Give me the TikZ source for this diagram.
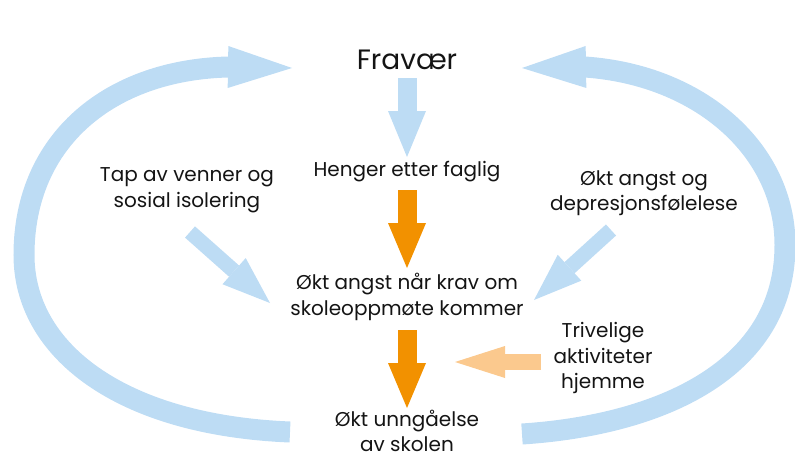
\documentclass[tikz,border=0pt]{standalone}
\usepackage{fontspec}
\setmainfont{Poppins}
\usetikzlibrary{arrows.meta,calc}

\definecolor{paleblue}{RGB}{189,220,244}
\definecolor{strongorange}{RGB}{242,145,0}
\definecolor{paleorange}{RGB}{251,201,142}

\begin{document}
\begin{tikzpicture}[x=1pt,y=-1pt,
  txt/.style={align=center,inner sep=0pt,text=black!92,font=\fontsize{20}{25.5}\selectfont},
  bluearrow/.style={draw=paleblue,line width=19pt,-{Triangle[length=46pt,width=38pt,line width=0pt]}},
  orangearrow/.style={draw=strongorange,line width=19pt,-{Triangle[length=45pt,width=38pt,line width=0pt]}},
  slantarrow/.style={draw=paleblue,line width=15pt,-{Triangle[length=48pt,width=35pt,line width=0pt]}},
  palearrow/.style={draw=paleorange,line width=16.5pt,-{Triangle[length=50pt,width=32pt,line width=0pt]}},
  bigarc/.style={draw=paleblue,line width=21pt,-{Triangle[length=64pt,width=42pt,line width=0pt]}}]
\useasboundingbox (0,0) rectangle (795,471);

%the texts
\node[txt,font=\fontsize{28}{32}\selectfont] (fravaer) at (407,60) {Fravær};
\node[txt] (henger) at (407,172) {Henger etter faglig};
\node[txt] (angst) at (407,297) {Økt angst når krav om\\skoleoppmøte kommer};
\node[txt] (unngaa) at (407,431) {Økt unngåelse\\av skolen};
\node[txt] (tap) at (187,190) {Tap av venner og\\sosial isolering};
\node[txt] (depr) at (644,193) {Økt angst og\\depresjonsfølelese};
\node[txt] (trivelig) at (603,358) {Trivelige\\aktiviteter\\hjemme};

%arrows down the middle
\draw[bluearrow] ($(fravaer)+(0,18)$) -- ($(henger)+(0,-15)$);
\foreach \a/\b/\s/\e in {henger/angst/18/-29, angst/unngaa/33/-23}
\draw[orangearrow] ($(\a)+(0,\s)$) -- ($(\b)+(0,\e)$);

%arrows from the sides
\draw[slantarrow] ($(tap)+(3,42)$) -- ($(angst)+(-137,6)$);
\draw[slantarrow] ($(depr)+(-33,37)$) -- ($(angst)+(127,3)$);
\coordinate (hit) at (455,362);
\draw[palearrow] ($(trivelig)+(-62,4)$) -- (hit);

%big loops back to the top
\draw[bigarc] ($(unngaa)+(-117,1)$) .. controls (120,425) and (24,350) .. (24,255)
  .. controls (24,140) and (110,70) .. (228,67) -- ($(fravaer)+(-115,8)$);
\draw[bigarc] ($(unngaa)+(115,3)$) .. controls (660,425) and (785,370) .. (785,245)
  .. controls (785,150) and (700,75) .. (585,67) -- ($(fravaer)+(115,8)$);
\end{tikzpicture}
\end{document}
